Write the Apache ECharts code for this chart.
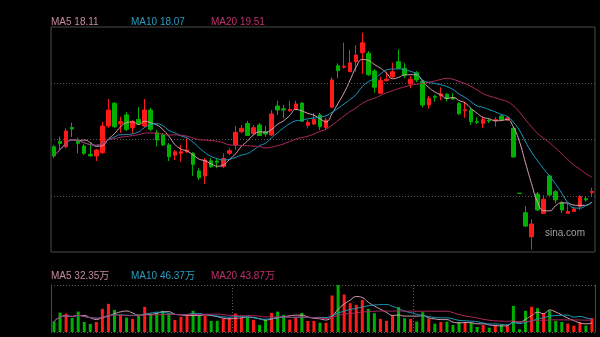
<!DOCTYPE html>
<html>
<head>
<meta charset="utf-8">
<script src="https://cdn.jsdelivr.net/npm/echarts@6/dist/echarts.min.js"></script>
<style>
html,body{margin:0;padding:0;background:#000;}
#c{width:600px;height:337px;}
</style>
</head>
<body>
<div id="c"></div>
<script>
// ---- data ----
const opens = [21.25,21.55,21.25,22.34,21.63,21.29,20.81,20.72,20.91,22.43, 23.73,22.56,23.06,22.33,22.81,22.43,23.34,22.05,21.92,21.35, 20.77,20.87,20.96,20.87,19.86,19.58,20.45,20.43,20.11,20.87, 21.35,22.10,22.58,22.01,22.49,22.10,21.92,23.57,23.41,23.30, 23.38,23.74,22.47,22.54,23.06,22.35,23.50,25.87,25.78,25.53, 26.10,26.61,26.58,25.57,24.30,25.02,25.24,26.10,25.72,24.83, 25.47,24.96,23.63,24.13,24.14,24.24,24.03,23.71,23.30,23.34, 22.68,22.58,22.76,22.73,23.00,22.77,22.30,18.59,17.48,16.11, 18.55,17.45,19.58,18.68,18.05,17.45,17.55,17.84,18.28,18.63];
const closes = [20.72,21.43,22.14,22.26,21.44,20.87,20.73,21.06,22.43,23.34, 22.39,22.68,22.24,22.68,22.58,23.34,22.24,21.63,21.35,20.68, 20.96,20.96,21.06,20.24,19.48,20.49,20.11,20.36,20.58,21.02, 22.07,22.30,21.89,22.33,21.89,21.97,23.12,23.34,23.34,23.38, 23.69,22.70,22.64,22.81,22.39,22.77,25.06,25.59,25.84,26.04, 26.48,27.18,25.35,24.64,25.02,25.10,25.53,25.72,25.34,25.10, 25.06,23.63,24.01,24.07,24.26,24.01,23.97,23.13,23.36,22.68, 22.64,22.81,22.72,22.79,22.77,22.89,20.66,18.59,16.72,16.84, 17.64,18.25,18.49,18.21,17.64,17.55,17.70,18.40,18.22,18.69];
const lows = [20.60,21.06,21.16,21.80,20.87,20.77,20.68,20.43,20.83,22.32, 22.32,22.03,22.14,22.03,22.49,22.37,22.14,21.25,21.29,20.43, 20.49,20.39,20.89,19.58,19.35,19.12,20.03,20.02,20.03,20.77, 21.06,22.01,21.86,21.92,21.86,21.82,21.86,23.06,22.87,23.25, 23.34,22.66,22.30,22.49,22.20,22.20,23.46,25.15,25.72,25.51, 25.53,25.40,25.28,24.33,24.26,24.96,25.17,25.68,25.17,24.58, 24.94,23.50,23.42,23.82,23.91,23.82,23.91,23.06,22.89,22.49, 22.54,22.30,22.60,22.39,22.72,22.72,20.62,18.59,16.67,15.39, 17.58,17.41,18.43,18.02,17.46,17.44,17.52,17.64,18.11,18.40];
const highs = [21.35,21.82,22.30,22.62,21.76,21.40,21.44,21.12,22.67,23.97, 23.80,22.96,23.23,22.77,23.51,23.97,23.46,22.20,22.03,21.46, 21.06,21.35,21.73,20.95,20.02,20.60,20.60,20.58,20.87,21.16, 22.43,22.49,22.72,22.49,22.61,22.43,23.34,23.87,23.63,23.87, 23.87,23.80,22.77,23.17,23.17,22.89,25.21,26.01,27.18,26.77, 27.05,27.75,26.71,25.68,25.24,25.53,26.04,26.81,26.01,25.28, 25.57,25.06,24.14,24.20,24.64,24.31,24.30,23.80,23.82,23.46, 22.93,22.96,22.83,22.93,23.07,23.00,22.37,18.59,17.85,17.10, 18.66,18.49,19.64,18.78,18.15,18.01,17.75,18.49,18.40,18.91];
// volume in 万 (10k shares)
const volumes = [37.6,70.4,66.8,51.1,74.1,36.5,29.2,36.5,84.0,102.2, 80.3,62.1,52.2,47.5,63.1,91.3,65.7,69.4,76.7,65.7, 43.8,54.8,59.5,76.7,62.1,59.5,40.2,40.2,48.5,51.1, 66.8,51.1,52.2,43.8,25.6,43.8,69.4,74.1,62.1,44.9, 54.8,69.4,40.2,40.2,33.9,33.9,132.5,170.5,136.1,104.8, 98.6,115.7,84.0,68.3,47.5,40.2,61.0,90.2,50.0,47.5, 37.6,71.9,48.5,30.3,36.5,37.6,25.6,36.5,35.4,32.9, 18.3,25.6,15.7,24.5,25.6,23.0,94.9,9.9,76.7,91.3, 86.5,68.3,76.7,40.2,36.5,30.3,23.0,35.4,23.0,50.0];
const priceLegend = ['MA5 18.11', 'MA10 18.07', 'MA20 19.51'];
const volLegend = ['MA5 32.35万', 'MA10 46.37万', 'MA20 43.87万'];
const maPeriods = [5, 10, 20];
const watermark = 'sina.com';
const categories = opens.map((_, i) => String(i + 1));

// ---- styling ----
const UP = '#ff1a1a', DOWN = '#00b000';
const maColors = ['#dba3b5', '#1f9cc2', '#b22a62'];
const legendColors = ['#c58a9d', '#2a9cbf', '#c0306c'];
const FRAME = '#4a4a4a', DOT = '#5a5a5a';

function movingAvg(arr, n) {
  return arr.map((_, i) => {
    const s = Math.max(0, i - n + 1);
    let sum = 0;
    for (let k = s; k <= i; k++) sum += arr[k];
    return +(sum / (i - s + 1)).toFixed(3);
  });
}
const isUp = opens.map((o, i) => {
  const c = closes[i];
  if (c > o) return true;
  if (c < o) return false;
  return i > 0 ? c >= closes[i - 1] : true;
});
const kData = opens.map((o, i) => [o, closes[i], lows[i], highs[i]]);

const chart = echarts.init(document.getElementById('c'), null, {renderer: 'canvas'});
const FONT = '10px "Liberation Sans", Arial, "Noto Sans CJK SC", sans-serif';
const legendX = [51, 131, 211];
const graphics = [];
priceLegend.forEach((t, i) => graphics.push({type: 'text', left: legendX[i], top: 17,
  style: {text: t, fill: legendColors[i], font: FONT}}));
volLegend.forEach((t, i) => graphics.push({type: 'text', left: legendX[i], top: 271,
  style: {text: t, fill: legendColors[i], font: FONT}}));
graphics.push({type: 'text', left: 545, top: 228, style: {text: watermark, fill: '#a0a0a0', font: FONT}});

const hidden = {axisLine: {show: false}, axisTick: {show: false}, axisLabel: {show: false}, splitLine: {show: false}};
const series = [{
  type: 'candlestick', xAxisIndex: 0, yAxisIndex: 0, data: kData, barWidth: 4,
  itemStyle: {color: UP, color0: DOWN, borderColor: UP, borderColor0: DOWN, borderWidth: 1}
}];
maPeriods.forEach((n, i) => series.push({
  type: 'line', xAxisIndex: 0, yAxisIndex: 0, data: movingAvg(closes, n), smooth: true,
  showSymbol: false, lineStyle: {width: 1, color: maColors[i]}, z: 3
}));
series.push({
  type: 'bar', xAxisIndex: 1, yAxisIndex: 2, barWidth: 3,
  data: volumes.map((v, i) => ({value: v, itemStyle: {color: isUp[i] ? UP : DOWN}}))
});
maPeriods.forEach((n, i) => series.push({
  type: 'line', xAxisIndex: 1, yAxisIndex: 2, data: movingAvg(volumes, n), smooth: true,
  showSymbol: false, lineStyle: {width: 1, color: maColors[i]}, z: 3
}));

chart.setOption({
  backgroundColor: '#000',
  animation: false,
  graphic: graphics,
  grid: [
    {left: 51, top: 27, width: 544, height: 225, show: true, borderColor: FRAME, borderWidth: 1, backgroundColor: 'transparent'},
    {left: 51, top: 285, width: 544, height: 47}
  ],
  xAxis: [
    Object.assign({type: 'category', gridIndex: 0, data: categories, boundaryGap: true}, hidden),
    Object.assign({type: 'category', gridIndex: 1, data: categories, boundaryGap: true}, hidden, {
      splitLine: {show: true, interval: (idx) => idx > 0 && idx % 30 === 0,
        lineStyle: {color: DOT, type: [1, 2], width: 1}}
    })
  ],
  yAxis: [
    Object.assign({type: 'value', gridIndex: 0, min: 15.24, max: 28.08, scale: true}, hidden),
    Object.assign({type: 'value', gridIndex: 0, min: 0, max: 4, interval: 1}, hidden, {
      splitLine: {show: true, showMinLine: false, showMaxLine: false, lineStyle: {color: DOT, type: [1, 2], width: 1}}
    }),
    Object.assign({type: 'value', gridIndex: 1, min: 0, max: 'dataMax', position: 'left'}, hidden, {
      axisLine: {show: true, lineStyle: {color: FRAME, width: 1}}
    }),
    Object.assign({type: 'value', gridIndex: 1, min: 0, max: 1, interval: 1, position: 'right'}, hidden, {
      axisLine: {show: true, lineStyle: {color: FRAME, width: 1}},
      splitLine: {show: true, lineStyle: {color: DOT, type: [1, 2], width: 1}}
    })
  ],
  series: series
});
</script>
</body>
</html>
